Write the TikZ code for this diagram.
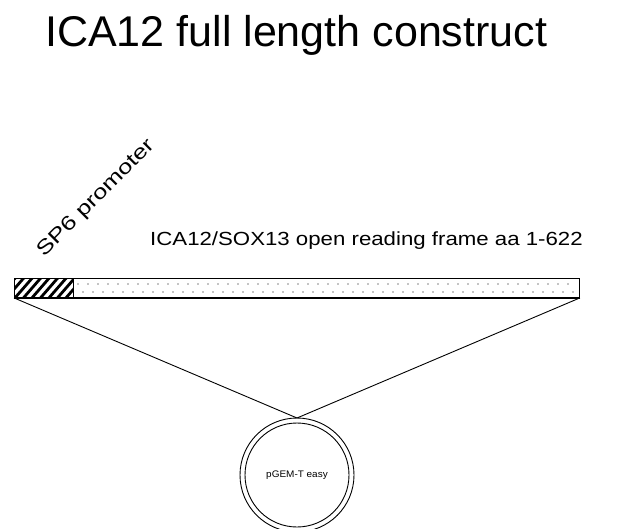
\documentclass[tikz,border=0pt]{standalone}
\usepackage{fontspec}
\setmainfont{Liberation Sans}
\begin{document}
\begin{tikzpicture}[x=1pt,y=-1pt,
  segment/.style={draw=black, line width=0.9pt, minimum height=19pt, inner sep=0pt, anchor=north west},
  linker/.style={draw=black, line width=0.9pt},
  label/.style={inner sep=0pt, text=black}]
\useasboundingbox (0,0) rectangle (642,528);
\fill[white] (0,0) rectangle (642,528);

% title
\node[label, anchor=base west, font=\fontsize{43}{48}\selectfont] (title) at (45,46) {ICA12 full length construct};

% construct: SP6 promoter segment and open reading frame segment
\node[segment, minimum width=59pt] (sp6) at (14,278) {};
\node[segment, minimum width=506pt] (orf) at (73,278) {};

% hatching of the promoter
\begin{scope}
  \clip (sp6.south west) rectangle (sp6.north east);
  \foreach \x in {-20,-11.5,...,80} \draw[line width=2.8pt] (\x,299) -- (\x+20,276);
\end{scope}
% stippling of the reading frame
\foreach \x in {78,88,...,574} {
  \fill (\x,284) circle (0.6pt);
  \fill (\x+5,292) circle (0.6pt);
}
\draw[line width=0.9pt] (sp6.north west) rectangle (orf.south east);
\draw[line width=2pt] (sp6.south west) -- (orf.south east);
\draw[line width=0.9pt] (sp6.north east) -- (sp6.south east);

% labels
\node[label, anchor=base west, rotate=45, font=\fontsize{20}{22}\selectfont] (sp6lab) at (44,258) {\scalebox{1.28}[1]{SP6 promoter}};
\node[label, anchor=base west, font=\fontsize{19}{22}\selectfont] (orflab) at (150,245) {\scalebox{1.17}[1]{ICA12/SOX13 open reading frame aa 1-622}};

% vector
\node[circle, draw=black, line width=0.9pt, minimum size=104pt, inner sep=0pt, font=\fontsize{9.5}{10}\selectfont] (vector) at (297,475) {\scalebox{1.05}[1]{pGEM-T easy}};
\draw[line width=0.9pt] (vector.center) circle (57pt);
\coordinate (vtop) at (297,418);

% insertion lines
\draw[linker] (sp6.south west) -- (vtop);
\draw[linker] (orf.south east) -- (vtop);
\end{tikzpicture}
\end{document}
